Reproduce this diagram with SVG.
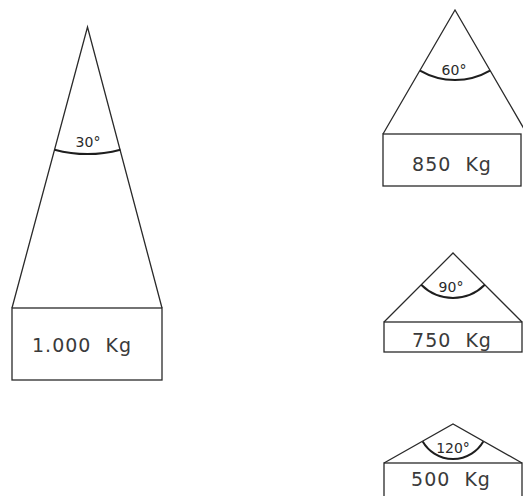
<svg xmlns="http://www.w3.org/2000/svg" width="523" height="496" viewBox="0 0 523 496">
<style>
.ln{fill:none;stroke:#2a2a2a;stroke-width:1.3;stroke-linejoin:miter}
.arc{fill:none;stroke:#1e1e1e;stroke-width:2}
.w{font-family:"DejaVu Sans","Liberation Sans",sans-serif;font-size:19px;fill:#3a3a3a;letter-spacing:1px;text-anchor:middle;white-space:pre}
.a{font-family:"DejaVu Sans","Liberation Sans",sans-serif;font-size:14px;fill:#2a2a2a;text-anchor:middle}
</style>
<rect width="523" height="496" fill="#ffffff"/>
<g id="weight-1000">
<polyline class="ln" points="12,308 87.5,27 162,308"/>
<rect class="ln" x="12" y="308" width="150" height="72"/>
<path class="arc" d="M54.6,149.7 A127,127 0 0 0 120.4,149.7"/>
<text class="a" x="88" y="147">30°</text>
<text class="w" x="82" y="352" xml:space="preserve">1.000  Kg</text>
</g>
<g id="weight-850">
<polyline class="ln" points="383,134 455,10 527,134"/>
<rect class="ln" x="383" y="134" width="138" height="52"/>
<path class="arc" d="M420,70.6 A70,70 0 0 0 490,70.6"/>
<text class="a" x="454" y="75">60°</text>
<text class="w" x="452" y="171" xml:space="preserve">850  Kg</text>
</g>
<g id="weight-750">
<polyline class="ln" points="384,322 453,253 522,322"/>
<rect class="ln" x="384" y="322" width="138" height="30"/>
<path class="arc" d="M421.2,284.8 A45,45 0 0 0 484.8,284.8"/>
<text class="a" x="451" y="292">90°</text>
<text class="w" x="452" y="347" xml:space="preserve">750  Kg</text>
</g>
<g id="weight-500">
<polyline class="ln" points="384,463 453,424 522,463"/>
<rect class="ln" x="384" y="463" width="138" height="40"/>
<path class="arc" d="M422.7,441.5 A35,35 0 0 0 483.3,441.5"/>
<text class="a" x="453" y="453">120°</text>
<text class="w" x="451" y="486" xml:space="preserve">500  Kg</text>
</g>
<g id="connectors"/>
</svg>
